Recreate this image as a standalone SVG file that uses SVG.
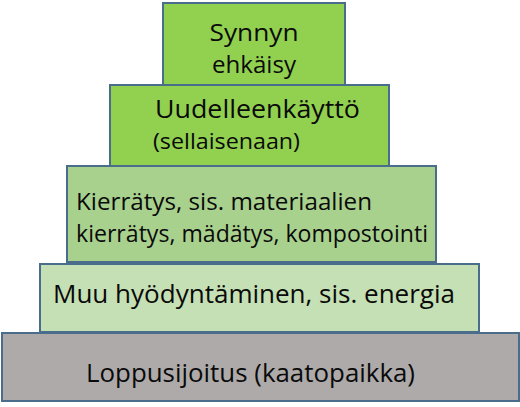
<svg xmlns="http://www.w3.org/2000/svg" width="520" height="407" viewBox="0 0 520 407">
<style>
.box{stroke:#4a6d8c;stroke-width:2}
.t{font-family:"Open Sans","Liberation Sans",sans-serif;fill:#0a0a0a;}
</style>
<rect x="0" y="0" width="520" height="407" fill="#ffffff"/>
<g id="n1">
<rect class="box" x="163" y="3" width="182" height="82" fill="#92d050"/>
<text class="t" x="254" y="41" font-size="23.5" text-anchor="middle" textLength="89" lengthAdjust="spacingAndGlyphs">Synnyn</text>
<text class="t" x="254" y="73" font-size="23.5" text-anchor="middle" textLength="84" lengthAdjust="spacingAndGlyphs">ehkäisy</text>
</g>
<g id="n2">
<rect class="box" x="110" y="85" width="279" height="82" fill="#92d050"/>
<text class="t" x="155" y="118" font-size="26" textLength="205" lengthAdjust="spacingAndGlyphs">Uudelleenkäyttö</text>
<text class="t" x="153" y="149" font-size="22" textLength="147" lengthAdjust="spacingAndGlyphs">(sellaisenaan)</text>
</g>
<g id="n3">
<rect class="box" x="67" y="166" width="369" height="96" fill="#a9d18e"/>
<text class="t" x="76" y="210" font-size="24" textLength="296" lengthAdjust="spacingAndGlyphs">Kierrätys, sis. materiaalien</text>
<text class="t" x="76" y="242" font-size="23.5" textLength="352" lengthAdjust="spacingAndGlyphs">kierrätys, mädätys, kompostointi</text>
</g>
<g id="n4">
<rect class="box" x="40" y="264" width="439" height="68" fill="#c5e0b4"/>
<text class="t" x="53" y="303" font-size="25" textLength="402" lengthAdjust="spacingAndGlyphs">Muu hyödyntäminen, sis. energia</text>
</g>
<g id="n5">
<rect class="box" x="2" y="333" width="517" height="68" fill="#aeaaaa"/>
<text class="t" x="86" y="382" font-size="25" textLength="329" lengthAdjust="spacingAndGlyphs">Loppusijoitus (kaatopaikka)</text>
</g>
<g id="connectors"></g>
</svg>
